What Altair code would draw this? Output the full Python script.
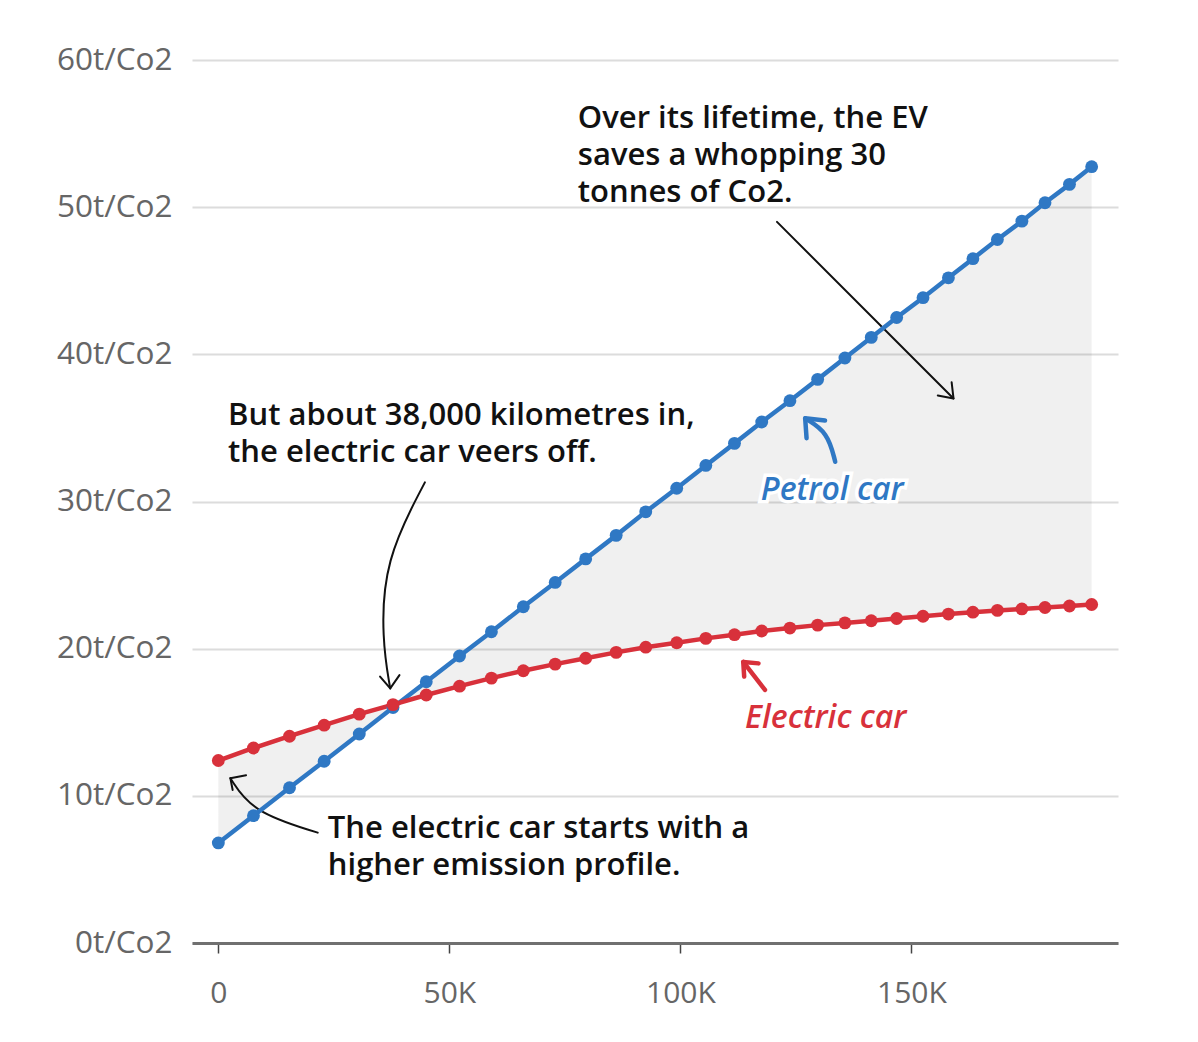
import pandas as pd
import altair as alt

# distance driven, thousands of km (one point per year)
km = [0, 7.6, 15.4, 22.9, 30.5, 37.8, 45.0, 52.2, 59.1, 66.0, 72.9, 79.5, 86.1,
      92.5, 99.2, 105.5, 111.7, 117.6, 123.7, 129.7, 135.6, 141.3, 146.8, 152.5,
      158.0, 163.3, 168.6, 173.9, 178.9, 184.2, 189.0]
# cumulative emissions, tonnes of CO2
petrol = [6.8, 8.65, 10.55, 12.35, 14.2, 16.0, 17.75, 19.5, 21.15, 22.85, 24.5,
          26.1, 27.7, 29.3, 30.9, 32.45, 33.95, 35.4, 36.85, 38.3, 39.75, 41.15,
          42.5, 43.85, 45.2, 46.5, 47.8, 49.05, 50.3, 51.55, 52.75]
electric = [12.4, 13.25, 14.05, 14.8, 15.55, 16.2, 16.85, 17.45, 18.0, 18.5,
            18.95, 19.35, 19.75, 20.1, 20.4, 20.7, 20.95, 21.2, 21.4, 21.6,
            21.75, 21.9, 22.05, 22.2, 22.35, 22.48, 22.6, 22.7, 22.8, 22.9, 23.0]

y_ticks = [0, 10, 20, 30, 40, 50, 60]
x_ticks = [0, 50, 100, 150]

# annotation notes (halo = white outline where the text sits on a gridline)
notes = ["Over its lifetime, the EV\nsaves a whopping 30\ntonnes of Co2.",
         "But about 38,000 kilometres in,\nthe electric car veers off.",
         "The electric car starts with a\nhigher emission profile."]
notes_x = [77.8, 2.1, 23.7]
notes_y = [55.4, 35.2, 7.13]
notes_halo = [True, False, False]

series_labels = ["Petrol car", "Electric car"]
series_label_x = [117.4, 114.0]
series_label_y = [30.1, 14.6]
series_halo = [True, False]

# arrow paths (data units): black thin ones and coloured thick ones
black_curves = {
    "lifetime": [(120.9, 49.0), (159.1, 37.0)],
    "veers": [(44.7, 31.3), (35.9, 26.0), (35.4, 20.6), (37.2, 17.3)],
    "starts": [(21.5, 7.5), (7.3, 8.9), (2.6, 11.2)],
}
black_heads = {
    "lifetime": [(158.7, 38.1), (159.1, 37.0), (155.7, 37.2)],
    "veers": [(35.0, 18.1), (37.2, 17.3), (39.2, 18.2)],
    "starts": [(3.1, 10.4), (2.6, 11.2), (6.0, 11.4)],
}
petrol_arrow = [(133.5, 32.7), (131.9, 34.7), (127.0, 35.65)]
petrol_head = [(127.3, 34.3), (127.0, 35.65), (131.3, 35.5)]
electric_arrow = [(118.3, 17.2), (113.6, 19.1)]
electric_head = [(113.8, 18.1), (113.6, 19.1), (116.9, 19.0)]

BLUE = "#2f78c4"
RED = "#d8313b"
FONT = "Open Sans"


def path_df(paths):
    rows = []
    for name, pts in paths.items():
        for i, (px, py) in enumerate(pts):
            rows.append({"id": name, "o": i, "x": px, "y": py})
    return pd.DataFrame(rows)


df = pd.DataFrame({"km": km, "petrol": petrol, "electric": electric})
df_long = df.melt(id_vars="km", var_name="car", value_name="t")

xscale = alt.Scale(domain=[-5.7, 194.7], nice=False, zero=False)
yscale = alt.Scale(domain=[0, 60], nice=False)

x_axis = alt.Axis(values=x_ticks, title=None, grid=False,
                  labelExpr="datum.value == 0 ? '0' : datum.value + 'K'",
                  domainColor="#707070", domainWidth=3, tickColor="#444",
                  tickWidth=1.5, tickSize=10, labelFontSize=30, labelColor="#666",
                  labelFont=FONT, labelPadding=25)
y_axis = alt.Axis(values=y_ticks, title=None, domain=False, ticks=False,
                  labelExpr="datum.value + 't/Co2'", gridColor="#dcdcdc",
                  gridWidth=2, labelFontSize=31.5, labelColor="#666",
                  labelFont=FONT, labelPadding=20)

base = alt.Chart(df)

area = base.mark_area(color="#000", opacity=0.06).encode(
    x=alt.X("km:Q", scale=xscale, axis=x_axis),
    y=alt.Y("petrol:Q", scale=yscale, axis=y_axis),
    y2="electric:Q",
)

colors = alt.Scale(domain=["petrol", "electric"], range=[BLUE, RED])
lines = alt.Chart(df_long).mark_line(strokeWidth=4.5).encode(
    x=alt.X("km:Q", scale=xscale),
    y=alt.Y("t:Q", scale=yscale),
    color=alt.Color("car:N", scale=colors, legend=None),
)
dots = alt.Chart(df_long).mark_circle(size=165, opacity=1).encode(
    x=alt.X("km:Q", scale=xscale),
    y=alt.Y("t:Q", scale=yscale),
    color=alt.Color("car:N", scale=colors, legend=None),
)


def arrow_layer(data, width, color, interp):
    return alt.Chart(data).mark_line(strokeWidth=width, color=color,
                                     interpolate=interp, strokeCap="round",
                                     strokeJoin="round").encode(
        x=alt.X("x:Q", scale=xscale),
        y=alt.Y("y:Q", scale=yscale),
        detail="id:N",
        order="o:Q",
    )


arrows = [
    arrow_layer(path_df(black_curves), 2, "#111", "basis"),
    arrow_layer(path_df(black_heads), 2, "#111", "linear"),
    arrow_layer(path_df({"p": petrol_arrow}), 4.5, BLUE, "basis"),
    arrow_layer(path_df({"p": petrol_head}), 4.5, BLUE, "linear"),
    arrow_layer(path_df({"e": electric_arrow}), 4.5, RED, "linear"),
    arrow_layer(path_df({"e": electric_head}), 4.5, RED, "linear"),
]

df_notes = pd.DataFrame({"text": notes, "x": notes_x, "y": notes_y,
                         "halo": notes_halo})
df_series = pd.DataFrame({"text": series_labels, "x": series_label_x,
                          "y": series_label_y, "car": ["petrol", "electric"],
                          "halo": series_halo})

note_kw = dict(align="left", baseline="alphabetic", lineBreak="\n",
               lineHeight=37, font=FONT, fontSize=31, fontWeight=600)
note_enc = dict(x=alt.X("x:Q", scale=xscale), y=alt.Y("y:Q", scale=yscale),
                text="text:N")
notes_halo_layer = alt.Chart(df_notes).transform_filter("datum.halo").mark_text(
    color="white", stroke="white", strokeWidth=7, **note_kw).encode(**note_enc)
notes_text = alt.Chart(df_notes).mark_text(color="#111", **note_kw).encode(**note_enc)

lab_kw = dict(align="left", baseline="alphabetic", font=FONT, fontSize=32,
              fontWeight=600, fontStyle="italic")
labels_halo_layer = alt.Chart(df_series).transform_filter("datum.halo").mark_text(
    color="white", stroke="white", strokeWidth=7, **lab_kw).encode(**note_enc)
labels_text = alt.Chart(df_series).mark_text(**lab_kw).encode(
    color=alt.Color("car:N", scale=colors, legend=None), **note_enc)

chart = alt.layer(
    area, *arrows, lines, dots, notes_halo_layer, notes_text,
    labels_halo_layer, labels_text
).properties(
    width=926, height=883,
    autosize=alt.AutoSizeParams(type="none"),
    padding={"left": 184, "top": 52, "right": 72, "bottom": 91},
).configure_view(strokeWidth=0)

chart.save("out.html", embed_options={"renderer": "svg", "actions": False})
